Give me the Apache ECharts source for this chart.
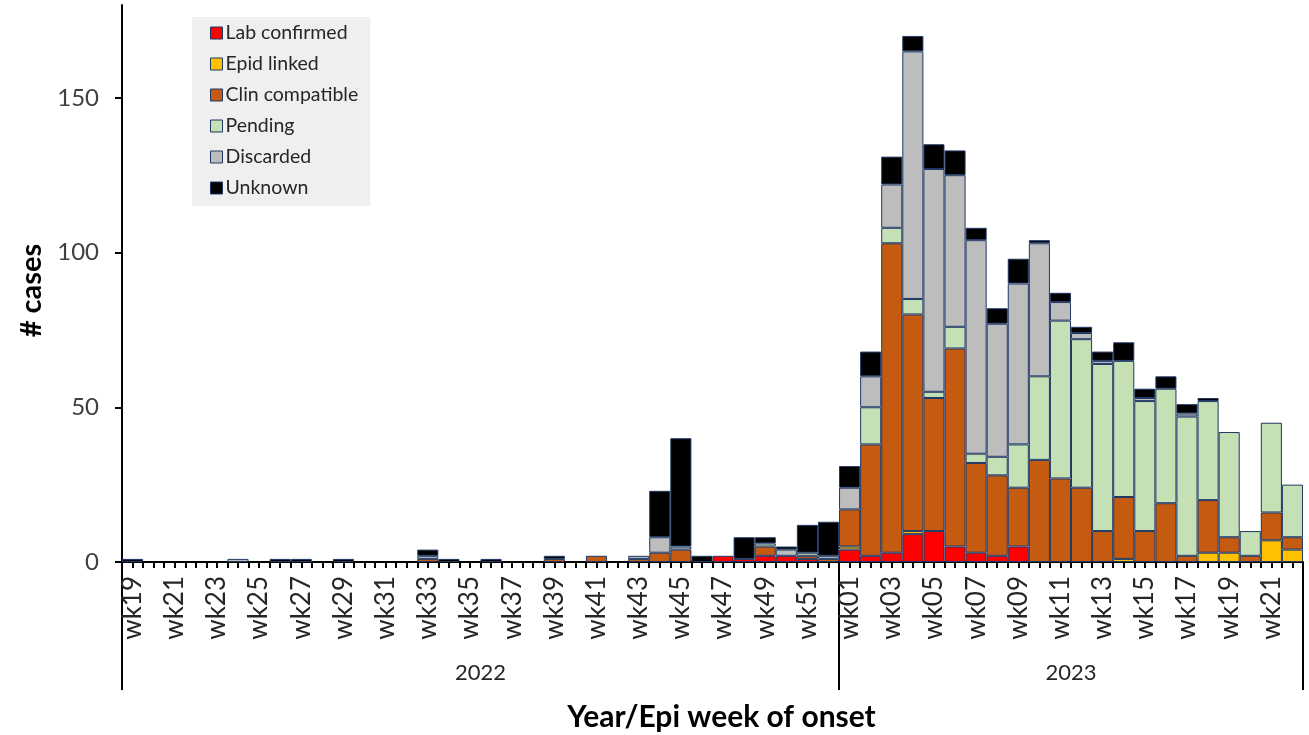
<!DOCTYPE html>
<html>
<head>
<meta charset="utf-8">
<script src="https://cdn.jsdelivr.net/npm/echarts@6/dist/echarts.min.js"></script>
<style>
  html, body { margin: 0; padding: 0; background: #fff; }
  #chart { width: 1309px; height: 735px; }
</style>
</head>
<body>
<div id="chart"></div>
<script>
// ---- Data ----
const weeks2022 = ['wk19','wk20','wk21','wk22','wk23','wk24','wk25','wk26','wk27','wk28','wk29','wk30','wk31','wk32','wk33','wk34','wk35','wk36','wk37','wk38','wk39','wk40','wk41','wk42','wk43','wk44','wk45','wk46','wk47','wk48','wk49','wk50','wk51','wk52'];
const weeks2023 = ['wk01','wk02','wk03','wk04','wk05','wk06','wk07','wk08','wk09','wk10','wk11','wk12','wk13','wk14','wk15','wk16','wk17','wk18','wk19','wk20','wk21','wk22'];
const years = ['2022', '2023'];
const yTicks = [0, 50, 100, 150];

const labConfirmed = [0,0,0,0,0,0,0,0,0,0,0,0,0,0,0,0,0,0,0,0,0,0,0,0,0,0,0,0,2,1,2,2,1,0,
  4,2,3,9,10,5,3,2,5,0,0,0,0,0,0,0,0,0,0,0,0,0];
const epidLinked = [0,0,0,0,0,0,0,0,0,0,0,0,0,0,0,0,0,0,0,0,0,0,0,0,0,0,0,0,0,0,0,0,0,0,
  1,0,0,1,0,0,0,0,0,0,0,0,0,1,0,0,0,3,3,0,7,4];
const clinCompatible = [0,0,0,0,0,0,0,0,0,0,0,0,0,0,1,0,0,0,0,0,1,0,2,0,1,3,4,0,0,0,3,0,1,1,
  12,36,100,70,43,64,29,26,19,33,27,24,10,20,10,19,2,17,5,2,9,4];
const pending = [0,0,0,0,0,0,0,0,0,0,0,0,0,0,0,0,0,0,0,0,0,0,0,0,0,0,0,0,0,0,1,0,1,0,
  0,12,5,5,2,7,3,6,14,27,51,48,54,44,42,37,45,32,34,8,29,17];
const discarded = [0,0,0,0,0,1,0,0,0,0,0,0,0,0,1,0,0,0,0,0,0,0,0,0,1,5,1,0,0,0,0,2,0,1,
  7,10,14,80,72,49,69,43,52,43,6,2,1,0,1,0,1,0,0,0,0,0];
const unknown = [1,0,0,0,0,0,0,1,1,0,1,0,0,0,2,1,0,1,0,0,1,0,0,0,0,15,35,2,0,7,2,1,9,11,
  7,8,9,5,8,8,4,5,8,1,3,2,3,6,3,4,3,1,0,0,0,0];

const seriesNames = ['Lab confirmed','Epid linked','Clin compatible','Pending','Discarded','Unknown'];
const seriesData = [labConfirmed, epidLinked, clinCompatible, pending, discarded, unknown];
const seriesColors = ['#ff0000','#ffc000','#c55a11','#c5e0b4','#bdbdbd','#000000'];

// ---- Build ----
const categories = weeks2022.concat(weeks2023);
const n = categories.length;
const yearCounts = [weeks2022.length, weeks2023.length];
const yearBounds = [0, yearCounts[0], yearCounts[0] + yearCounts[1]];
const yearCenters = [yearCounts[0] / 2, yearCounts[0] + yearCounts[1] / 2];

const FONT = 'Lato, "Open Sans", sans-serif';
const chart = echarts.init(document.getElementById('chart'));

const series = seriesNames.map((name, i) => ({
  name,
  type: 'bar',
  stack: 'total',
  xAxisIndex: 0,
  yAxisIndex: 0,
  barCategoryGap: '0%',
  data: seriesData[i].map(v => (v === 0 ? null : v)),
  itemStyle: { color: seriesColors[i], borderColor: '#1f3864', borderWidth: 1 },
  emphasis: { disabled: true }
}));

chart.setOption({
  animation: false,
  backgroundColor: '#ffffff',
  grid: { left: 122, right: 6, top: 5, bottom: 173, containLabel: false, outerBoundsMode: 'none' },
  legend: {
    orient: 'vertical',
    left: 192,
    top: 17,
    width: 181,
    backgroundColor: '#efefef',
    padding: [6, 12, 8, 18],
    itemWidth: 12,
    itemHeight: 12,
    itemGap: 11,
    icon: 'rect',
    selectedMode: false,
    textStyle: { fontFamily: FONT, fontSize: 19.5, color: '#262626', padding: [0, 0, 0, -2] },
    itemStyle: { borderColor: '#1f3864', borderWidth: 1 },
    data: seriesNames
  },
  xAxis: [
    {
      type: 'category',
      data: categories,
      position: 'bottom',
      axisLine: { show: true, lineStyle: { color: '#000', width: 2 } },
      axisTick: { show: false },
      axisLabel: {
        interval: 1,
        rotate: 90,
        margin: 14,
        fontFamily: FONT,
        fontSize: 26,
        color: '#262626'
      },
      splitLine: { show: false }
    },
    {
      type: 'value',
      min: 0,
      max: n,
      interval: 0.5,
      position: 'bottom',
      axisLine: { show: false },
      axisTick: { show: true, length: 6, lineStyle: { color: '#000', width: 2 } },
      axisLabel: { show: false },
      splitLine: { show: false }
    },
    {
      type: 'value',
      min: 0,
      max: n,
      position: 'bottom',
      axisLine: { show: false },
      axisTick: { show: true, length: 128, customValues: yearBounds, lineStyle: { color: '#000', width: 2 } },
      axisLabel: {
        show: true,
        customValues: yearCenters,
        formatter: v => years[yearCenters.indexOf(v)],
        margin: 100,
        fontFamily: FONT,
        fontSize: 22,
        color: '#262626'
      },
      splitLine: { show: false },
      name: 'Year/Epi week of onset',
      nameLocation: 'middle',
      nameGap: 140,
      nameTextStyle: { fontFamily: FONT, fontSize: 30, fontWeight: 'bold', color: '#000', padding: [0, 0, 0, 18] }
    }
  ],
  yAxis: {
    type: 'value',
    min: 0,
    max: 180,
    axisLine: { show: true, lineStyle: { color: '#000', width: 2 } },
    axisTick: { show: true, length: 7, customValues: yTicks, lineStyle: { color: '#000', width: 2 } },
    axisLabel: {
      customValues: yTicks,
      margin: 23,
      fontFamily: FONT,
      fontSize: 24,
      color: '#404040'
    },
    splitLine: { show: false },
    name: '# cases',
    nameLocation: 'middle',
    nameGap: 74,
    nameTextStyle: { fontFamily: FONT, fontSize: 29, fontWeight: 'bold', color: '#000', padding: [0, 14, 0, 0] }
  },
  series
});
</script>
</body>
</html>
